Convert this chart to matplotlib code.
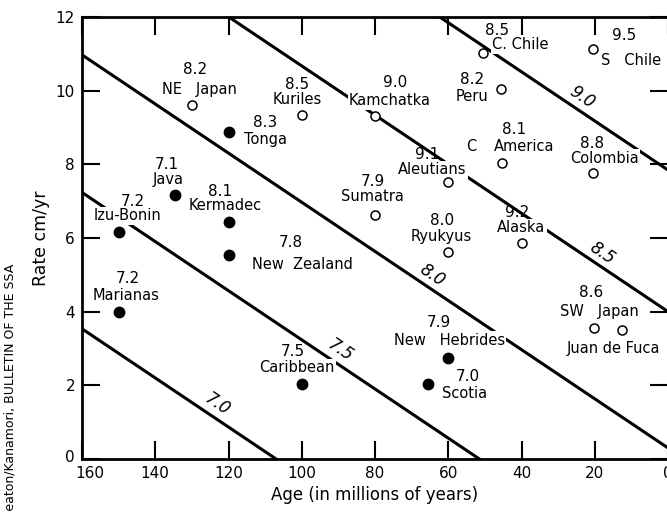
import matplotlib
matplotlib.use("Agg")
import matplotlib.pyplot as plt
import matplotlib.transforms as mtransforms
import numpy as np

# subduction zones: age of plate (Myr), convergence rate (cm/yr), max magnitude
names = ["NE   Japan", "Kuriles", "Tonga", "Java", "Kermadec", "Izu-Bonin",
         "New  Zealand", "Marianas", "Caribbean", "New   Hebrides", "Scotia",
         "Kamchatka", "C. Chile", "S   Chile", "Peru", "America", "Aleutians",
         "Sumatra", "Ryukyus", "Alaska", "Colombia", "SW   Japan", "Juan de Fuca"]
ages = [130, 100, 120, 134.6, 120, 150, 120, 150, 100, 60, 65.4,
        80, 50.4, 20.4, 45.5, 45.2, 60.2, 80, 60.2, 40, 20.4, 20.1, 12.5]
rates = [9.62, 9.35, 8.89, 7.17, 6.44, 6.17, 5.54, 4.0, 2.04, 2.74, 2.04,
         9.32, 11.03, 11.14, 10.05, 8.04, 7.53, 6.63, 5.63, 5.87, 7.76, 3.57, 3.5]
mags = ["8.2", "8.5", "8.3", "7.1", "8.1", "7.2", "7.8", "7.2", "7.5", "7.9", "7.0",
        "9.0", "8.5", "9.5", "8.2", "8.1", "9.1", "7.9", "8.0", "9.2", "8.8", "8.6", ""]
filled = [False, False, True, True, True, True, True, True, True, True, True,
          False, False, False, False, False, False, False, False, False, False, False, False]

# magnitude contours: label and x-intercept (Myr) of each line, common slope
contour_mags = ["7.0", "7.5", "8.0", "8.5", "9.0"]
contour_x0 = [107, 51.5, -4.5, -60, -117.6]
contour_slope = 0.0667
contour_label_age = [123.2, 89.6, 64.3, 17.9, 23.6]

# label offsets in pixels (dx right, dy down) for magnitude and name
mag_off = [(3, -35), (-5, -30), (37, -9), (-8, -30), (-8, -30), (14, -30),
           (62, -12), (9, -33), (-9, -32), (-9, -36), (39, -7),
           (20, -33), (14, -22), (31, -13), (-29, -9), (12, -33), (-20, -27),
           (-2, -33), (-5, -31), (-4, -30), (-1, -30), (-3, -35), (0, 0)]
name_off = [(8, -15), (-5, -15), (37, 8), (-7, -15), (-3, -16), (9, -16),
            (74, 10), (7, -16), (-5, -16), (1, -18), (36, 10),
            (15, -15), (37, -8), (38, 12), (-29, 8), (22, -16), (-15, -12),
            (-3, -18), (-6, -15), (0, -15), (11, -15), (5, -16), (-9, 18)]

fig = plt.figure(figsize=(6.67, 5.12), dpi=100)
ax = fig.add_axes([82 / 667, 53 / 512, 586 / 667, 442 / 512])
ax.set_xlim(160, 0)
ax.set_ylim(0, 12)

fs = 10.5
px = 0.72  # pixels -> points

for m, x0, la in zip(contour_mags, contour_x0, contour_label_age):
    xs = np.array([160, 0])
    ax.plot(xs, contour_slope * (xs - x0), color="black", lw=2.2, zorder=1)
    ax.text(la, contour_slope * (la - x0) + 0.4, m, rotation=-34, fontsize=12,
            style="italic", ha="center", va="center", zorder=2)

for i in range(len(names)):
    if filled[i]:
        ax.plot(ages[i], rates[i], "o", color="black", ms=7.5, zorder=4)
    else:
        ax.plot(ages[i], rates[i], "o", mfc="white", mec="black", mew=1.1,
                ms=6.5, zorder=4)
    box = dict(boxstyle="square,pad=0.1", fc="white", ec="none")
    if mags[i]:
        ax.annotate(mags[i], (ages[i], rates[i]),
                    xytext=(mag_off[i][0] * px, -mag_off[i][1] * px),
                    textcoords="offset points", ha="center", va="center",
                    fontsize=fs + 0.5, zorder=3)
    ax.annotate(names[i], (ages[i], rates[i]),
                xytext=(name_off[i][0] * px, -name_off[i][1] * px),
                textcoords="offset points", ha="center", va="center",
                fontsize=fs, bbox=box, zorder=3)

# the stray "C" of C. America
ax.annotate("C", (45.2, 8.04), xytext=(-31 * px, 16 * px), textcoords="offset points",
            ha="center", va="center", fontsize=fs, zorder=3)

ax.set_xticks([160, 140, 120, 100, 80, 60, 40, 20, 0])
ax.set_yticks([0, 2, 4, 6, 8, 10, 12])
ax.tick_params(direction="in", length=13, width=1.5, labelsize=11,
               top=True, right=True, pad=5)
for s in ax.spines.values():
    s.set_linewidth(2)

# nudge the corner labels apart like the original
lab160 = ax.get_xticklabels()[0]
lab160.set_transform(lab160.get_transform() +
                     mtransforms.ScaledTranslation(8 / 100, 0, fig.dpi_scale_trans))
lab0 = ax.get_yticklabels()[0]
lab0.set_transform(lab0.get_transform() +
                   mtransforms.ScaledTranslation(0, 3 / 100, fig.dpi_scale_trans))

ax.set_xlabel("Age (in millions of years)", fontsize=12)
ax.set_ylabel("Rate cm/yr", fontsize=12.5, labelpad=4)
fig.text(10 / 667, -0.015, "Heaton/Kanamori, BULLETIN OF THE SSA", rotation=90,
         ha="center", va="bottom", fontsize=9)

fig.savefig("out.png", dpi=100)
